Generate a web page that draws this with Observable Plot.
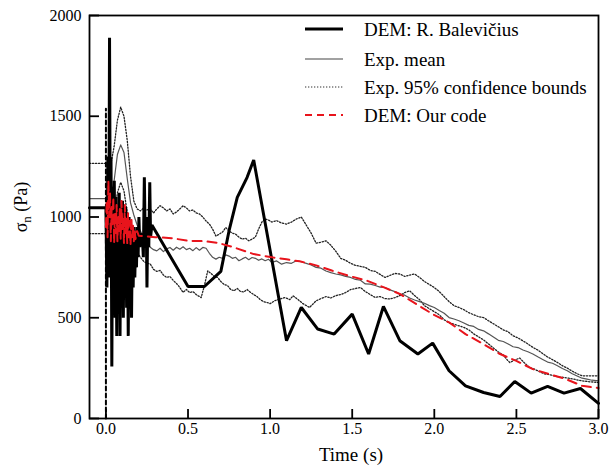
<!DOCTYPE html>
<html><head><meta charset="utf-8">
<script src="https://cdn.jsdelivr.net/npm/d3@7"></script>
<script src="https://cdn.jsdelivr.net/npm/@observablehq/plot@0.6"></script>
<style>body{margin:0;background:#fff}#chart{width:616px;height:465px}</style>
</head><body><div id="chart"></div>
<script>
// ---- tick labels / texts ----
const xTicks = [0, 0.5, 1.0, 1.5, 2.0, 2.5, 3.0];
const yTicks = [0, 500, 1000, 1500, 2000];
const xTitle = "Time (s)";
const yTitleMain = "σ", yTitleSub = "n", yTitleRest = " (Pa)";
const legendLabels = ["DEM: R. Balevičius", "Exp. mean", "Exp. 95% confidence bounds", "DEM: Our code"];

// ---- DEM: R. Balevičius (thick black) ----
const demT = [-0.1,0.0,0.006,0.012,0.017,0.022,0.027,0.031,0.036,0.041,0.046,0.051,0.056,0.061,0.066,0.071,0.076,0.081,0.086,0.091,0.096,0.101,0.106,0.111,0.116,0.121,0.126,0.131,0.136,0.141,0.146,0.151,0.156,0.161,0.166,0.171,0.176,0.181,0.186,0.191,0.196,0.201,0.206,0.211,0.216,0.222,0.228,0.234,0.240,0.246,0.250,0.255,0.261,0.267,0.272,0.280,0.5,0.6,0.7,0.75,0.8,0.86,0.9,1.1,1.19,1.29,1.39,1.5,1.6,1.69,1.79,1.9,1.99,2.09,2.19,2.3,2.4,2.49,2.59,2.69,2.79,2.89,3.0];
const demV = [1046,1046,650,1300,700,1889,800,1296,258,1150,600,1180,500,1100,410,1050,700,1120,410,1000,650,1080,500,980,700,1050,550,950,410,1000,600,950,500,900,650,950,700,900,750,950,800,1000,850,920,880,900,800,1197,850,950,650,1000,850,1172,900,960,655,655,730,932,1097,1197,1283,386,551,444,419,518,320,556,386,320,374,237,162,129,109,184,126,159,126,149,75];

// ---- start marker (black dashed vertical at t = 0) ----
const startT = [0, 0];
const startV = [0, 1537];

// ---- Exp. mean ----
const meanT = [-0.1,0.0,0.03,0.05,0.07,0.09,0.11,0.13,0.15,0.17,0.19,0.21,0.23,0.25,0.27,0.29,0.31,0.33,0.35,0.37,0.39,0.41,0.43,0.45,0.47,0.49,0.51,0.53,0.55,0.57,0.59,0.61,0.63,0.65,0.67,0.69,0.71,0.73,0.75,0.77,0.79,0.81,0.83,0.85,0.87,0.89,0.91,0.93,0.95,0.97,0.99,1.01,1.04,1.07,1.10,1.13,1.16,1.19,1.22,1.25,1.28,1.31,1.34,1.37,1.40,1.43,1.46,1.49,1.52,1.55,1.58,1.61,1.64,1.67,1.70,1.73,1.76,1.79,1.82,1.85,1.88,1.91,1.94,1.97,2.00,2.03,2.06,2.09,2.12,2.15,2.18,2.21,2.24,2.27,2.30,2.33,2.36,2.39,2.42,2.45,2.48,2.51,2.54,2.57,2.60,2.63,2.66,2.69,2.72,2.75,2.78,2.81,2.84,2.87,2.90,2.93,2.96,3.00];
const meanV = [1091,1091,1085,1180,1310,1358,1320,1190,1070,1010,960,930,900,870,850,838,832,845,828,842,849,835,850,840,852,838,845,833,848,835,849,845,820,800,791,800,795,812,806,795,800,783,792,800,788,799,795,785,792,783,790,775,782,766,774,770,783,778,770,762,750,746,732,724,717,713,705,700,690,686,668,667,660,652,650,638,630,618,612,598,588,580,572,560,551,536,522,501,494,485,474,462,457,442,435,420,404,388,382,370,356,352,340,331,320,306,293,280,274,262,248,237,222,211,200,195,190,187];

// ---- Exp. 95% confidence bounds ----
const upT = [-0.1,0.0,0.03,0.05,0.07,0.09,0.11,0.13,0.15,0.17,0.19,0.21,0.23,0.25,0.27,0.29,0.31,0.33,0.35,0.37,0.39,0.41,0.43,0.45,0.47,0.49,0.51,0.53,0.55,0.57,0.59,0.61,0.63,0.65,0.67,0.69,0.71,0.73,0.75,0.77,0.79,0.81,0.83,0.85,0.87,0.89,0.91,0.93,0.95,0.97,0.99,1.01,1.04,1.07,1.10,1.13,1.16,1.19,1.22,1.25,1.28,1.31,1.34,1.37,1.40,1.43,1.46,1.49,1.52,1.55,1.58,1.61,1.64,1.67,1.70,1.73,1.76,1.79,1.82,1.85,1.88,1.91,1.94,1.97,2.00,2.03,2.06,2.09,2.12,2.15,2.18,2.21,2.24,2.27,2.30,2.33,2.36,2.39,2.42,2.45,2.48,2.51,2.54,2.57,2.60,2.63,2.66,2.69,2.72,2.75,2.78,2.81,2.84,2.87,2.90,2.95,3.00];
const upV = [1266,1266,1262,1350,1480,1545,1500,1380,1200,1080,1040,1030,1045,1035,1040,1020,1040,1056,1045,1030,1040,1015,1025,1040,1056,1045,1030,1035,1020,1015,1000,980,965,940,905,915,925,948,930,920,915,900,890,895,882,890,900,940,975,990,985,975,982,970,965,975,990,1000,960,920,870,875,882,860,830,795,785,770,760,755,750,735,730,715,700,710,720,717,705,712,717,700,680,665,650,630,605,580,560,551,540,525,515,505,501,485,470,455,440,430,410,400,385,370,353,340,322,305,292,278,262,250,235,222,212,212,212];
const loT = [-0.1,0.0,0.03,0.05,0.07,0.09,0.11,0.13,0.15,0.17,0.19,0.21,0.23,0.25,0.27,0.29,0.31,0.33,0.35,0.37,0.39,0.41,0.43,0.45,0.47,0.49,0.51,0.53,0.55,0.57,0.58,0.60,0.62,0.64,0.66,0.68,0.70,0.72,0.74,0.76,0.78,0.80,0.82,0.84,0.86,0.88,0.90,0.92,0.94,0.96,0.98,1.00,1.03,1.06,1.09,1.12,1.14,1.17,1.20,1.24,1.28,1.31,1.34,1.37,1.40,1.43,1.46,1.49,1.52,1.55,1.58,1.61,1.64,1.67,1.70,1.73,1.76,1.79,1.82,1.85,1.88,1.91,1.94,1.97,2.00,2.03,2.06,2.09,2.12,2.15,2.18,2.21,2.24,2.27,2.30,2.33,2.36,2.39,2.42,2.45,2.46,2.49,2.52,2.55,2.58,2.61,2.64,2.67,2.70,2.73,2.76,2.79,2.82,2.85,2.88,2.91,2.95,3.00];
const loV = [917,917,915,1000,1120,1172,1130,1020,920,870,830,800,780,770,767,740,730,735,712,700,705,685,670,650,626,640,625,630,615,605,600,660,733,720,705,700,680,665,660,640,634,645,630,628,640,626,615,605,590,580,576,570,585,593,600,590,609,590,570,551,584,595,605,598,610,615,625,640,645,650,630,615,601,605,595,593,600,610,625,634,610,590,560,545,530,515,490,475,468,460,452,440,420,405,390,370,350,330,315,285,278,290,300,275,253,245,232,222,218,212,206,204,200,195,190,186,182,179];

// ---- DEM: Our code (red dashed) ----
const oursT = [0.0,0.005,0.01,0.015,0.02,0.025,0.03,0.035,0.04,0.045,0.05,0.055,0.06,0.065,0.07,0.075,0.08,0.085,0.09,0.095,0.1,0.105,0.11,0.115,0.12,0.125,0.13,0.135,0.14,0.145,0.15,0.155,0.16,0.165,0.17,0.175,0.18,0.19,0.2,0.3,0.4,0.5,0.6,0.68,0.78,0.9,1.02,1.1,1.18,1.28,1.38,1.48,1.59,1.69,1.79,1.89,1.99,2.09,2.19,2.3,2.4,2.5,2.6,2.7,2.8,2.9,3.0];
const oursV = [950,1080,900,1180,1000,1120,880,1050,950,1100,870,1020,920,1060,880,1000,930,1040,890,1080,940,1000,870,1060,920,990,870,1020,900,980,860,1000,900,960,880,940,890,930,907,900,895,882,880,872,849,816,799,790,780,760,733,708,684,652,618,568,518,477,419,369,320,286,245,220,196,162,151];

const rows = (T, V) => T.map((t, i) => ({t, v: V[i]}));

const serif = "'Liberation Serif','Times New Roman','DejaVu Serif',serif";
const dotDash = "1.3,1.7";
const plot = Plot.plot({
  width: 616, height: 465,
  marginLeft: 89, marginRight: 18, marginTop: 15, marginBottom: 47,
  style: {fontFamily: serif, fontSize: "16px", color: "#000", background: "#fff", overflow: "visible"},
  x: {domain: [-0.1, 3.0]},
  y: {domain: [0, 2000]},
  marks: [
    Plot.axisX({ticks: xTicks, tickFormat: d => d.toFixed(1), tickSize: -9, tickPadding: 13, label: null, strokeWidth: 1.8}),
    Plot.axisY({ticks: yTicks, tickFormat: d => String(d), tickSize: -10, tickPadding: 18, label: null, strokeWidth: 1.8}),
    Plot.line(rows(upT, upV), {x: "t", y: "v", stroke: "#222", strokeWidth: 1.3, strokeDasharray: dotDash}),
    Plot.line(rows(loT, loV), {x: "t", y: "v", stroke: "#222", strokeWidth: 1.3, strokeDasharray: dotDash}),
    Plot.line(rows(meanT, meanV), {x: "t", y: "v", stroke: "#555", strokeWidth: 1.2}),
    Plot.line(rows(startT, startV), {x: "t", y: "v", stroke: "#000", strokeWidth: 2, strokeDasharray: "4,3"}),
    Plot.line(rows(demT, demV), {x: "t", y: "v", stroke: "#000", strokeWidth: 3, strokeLinejoin: "miter"}),
    Plot.line(rows(oursT, oursV), {x: "t", y: "v", stroke: "#e8141c", strokeWidth: 2, strokeDasharray: "9,6"}),
    Plot.frame({stroke: "#000", strokeWidth: 1.8})
  ]
});
document.getElementById("chart").appendChild(plot);

const svg = d3.select(plot);
// axis titles
svg.append("text").attr("x", 351).attr("y", 461).attr("text-anchor", "middle")
  .attr("font-family", serif).attr("font-size", 19).text(xTitle);
const yt = svg.append("text").attr("transform", "translate(27,207) rotate(-90)").attr("text-anchor", "middle")
  .attr("font-family", serif).attr("font-size", 18);
yt.append("tspan").text(yTitleMain);
yt.append("tspan").attr("font-size", 13).attr("dy", 4).text(yTitleSub);
yt.append("tspan").attr("dy", -4).text(yTitleRest);

// legend
const legendStyles = [
  {stroke: "#000", width: 3, dash: null},
  {stroke: "#444", width: 1.1, dash: null},
  {stroke: "#333", width: 1.2, dash: dotDash},
  {stroke: "#e8141c", width: 2, dash: "7,5"}
];
const legendY = [29, 59, 87, 115];
const lg = svg.append("g");
legendLabels.forEach((lab, i) => {
  const s = legendStyles[i];
  lg.append("line").attr("x1", 305).attr("x2", 343).attr("y1", legendY[i]).attr("y2", legendY[i])
    .attr("stroke", s.stroke).attr("stroke-width", s.width).attr("stroke-dasharray", s.dash);
  lg.append("text").attr("x", 364).attr("y", legendY[i]).attr("dy", "0.35em").attr("text-anchor", "start")
    .attr("font-family", serif).attr("font-size", 19).text(lab);
});
</script></body></html>
